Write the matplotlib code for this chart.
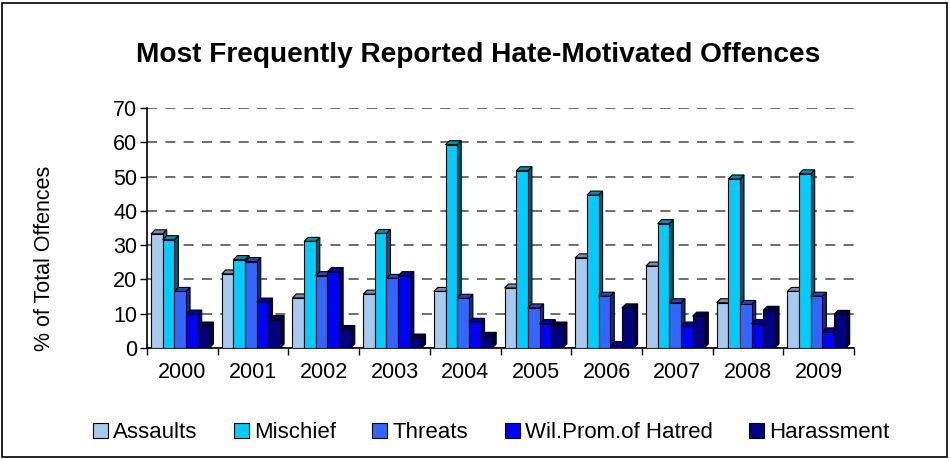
import matplotlib
matplotlib.use("Agg")
import matplotlib.pyplot as plt
import numpy as np
from matplotlib.patches import Polygon, Rectangle, Patch
from matplotlib.colors import to_rgb

plt.rcParams['font.family'] = ['Liberation Sans', 'DejaVu Sans']

years = ['2000', '2001', '2002', '2003', '2004', '2005', '2006', '2007', '2008', '2009']
series_names = ['Assaults', 'Mischief', 'Threats', 'Wil.Prom.of Hatred', 'Harassment']
assaults = [33.3, 21.6, 14.6, 15.7, 16.5, 17.5, 26.3, 23.9, 13.2, 16.5]
mischief = [31.6, 25.8, 31.1, 33.4, 59.3, 51.7, 44.6, 36.3, 49.3, 50.8]
threats = [16.5, 25.2, 21.1, 20.3, 14.5, 11.7, 15.1, 13.2, 12.7, 15.1]
wil_prom = [9.9, 13.4, 22.3, 21.1, 7.5, 7.1, 0.7, 6.4, 7.1, 4.7]
harassment = [6.4, 8.3, 5.4, 2.9, 3.4, 6.4, 11.7, 9.3, 11.0, 9.8]
series = [assaults, mischief, threats, wil_prom, harassment]
colors = ['#A6CAF0', '#00CCFF', '#3366FF', '#0000FF', '#000080']

fig = plt.figure(figsize=(9.5, 4.59), dpi=100)
ax = fig.add_axes([147/950, 1-348/459, 707/950, 240/459])

n = len(years)
x = np.arange(n)
w = 0.165
dx = 4/70.7        # depth in category units
dy = 4/240*70      # depth in value units

def darken(c, f):
    r, g, b = to_rgb(c)
    return (r*f, g*f, b*f)

ax.set_xlim(-0.5, n-0.5)
ax.set_ylim(0, 70)

for i, (vals, col) in enumerate(zip(series, colors)):
    offs = (i - 2) * w - 0.03
    for xi, v in zip(x, vals):
        left = xi + offs - w/2
        right = left + w
        side = Polygon([(right, 0), (right+dx, dy), (right+dx, v+dy), (right, v)],
                       closed=True, facecolor=darken(col, 0.45), edgecolor='black', lw=0.8, zorder=3+i*0.01)
        top = Polygon([(left, v), (left+dx, v+dy), (right+dx, v+dy), (right, v)],
                      closed=True, facecolor=darken(col, 0.7), edgecolor='black', lw=0.8, zorder=3+i*0.01)
        ax.add_patch(side)
        ax.add_patch(top)
    ax.bar(x + offs, vals, width=w, color=col, edgecolor='black', lw=0.8, zorder=3.005+i*0.01)

ax.set_yticks(np.arange(0, 71, 10))
ax.yaxis.grid(True, linestyle=(0, (6, 5)), color='#555555', lw=1.2, zorder=1)
ax.set_axisbelow(True)
ax.set_xticks(x)
ax.set_xticklabels(years, fontsize=15.5)
ax.set_xticks(np.arange(-0.5, n, 1), minor=True)
ax.tick_params(axis='x', which='major', length=0, pad=10)
ax.tick_params(axis='x', which='minor', length=5, width=1, direction='out')
ax.tick_params(axis='y', labelsize=15.5, length=5, width=1, direction='out', pad=2)
for s in ['top', 'right']:
    ax.spines[s].set_visible(False)
for s in ['left', 'bottom']:
    ax.spines[s].set_linewidth(1.2)

fig.text(0.503, 1-55/459, 'Most Frequently Reported Hate-Motivated Offences',
         ha='center', va='center', fontsize=20.2, fontweight='bold')
fig.text(45/950, 1-258/459, '% of Total Offences', rotation=90, ha='center', va='center', fontsize=15.5)

handles = [Patch(facecolor=c, edgecolor='black', lw=0.8) for c in colors]
fig.legend(handles, series_names, loc='center', bbox_to_anchor=(491/950, 1-433/459), ncol=5,
           frameon=False, fontsize=16, handlelength=0.68, handleheight=0.68, handletextpad=0.22,
           columnspacing=1.65, borderpad=0, borderaxespad=0)

fig.add_artist(Rectangle((2/950, 2/459), 945/950, 454/459, transform=fig.transFigure,
                         fill=False, edgecolor='black', lw=1.2))

fig.savefig('out.png', dpi=100)
